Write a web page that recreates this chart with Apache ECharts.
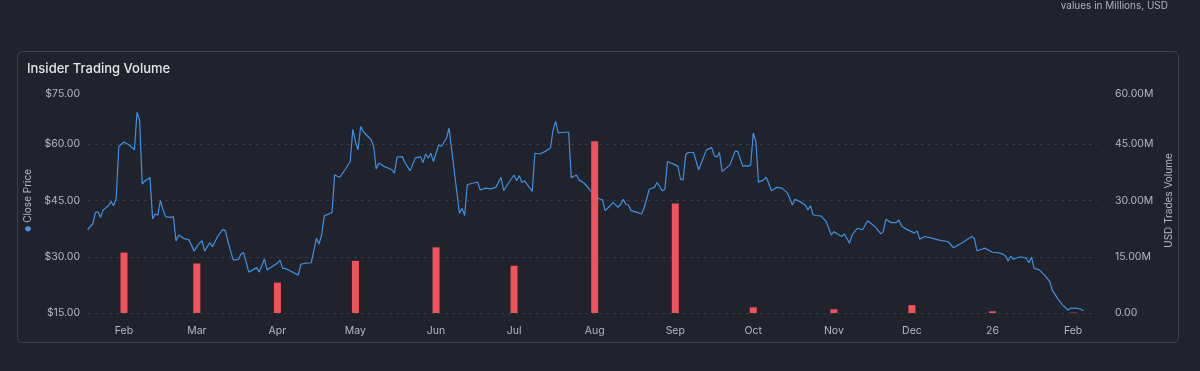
<!DOCTYPE html>
<html>
<head>
<meta charset="utf-8">
<script src="https://cdn.jsdelivr.net/npm/echarts@6/dist/echarts.min.js"></script>
<style>
html,body{margin:0;padding:0;background:#20232b;}
#chart{width:1200px;height:371px;}
</style>
</head>
<body>
<div id="chart"></div>
<script>
const monthNames = ['Jan','Feb','Mar','Apr','May','Jun','Jul','Aug','Sep','Oct','Nov','Dec'];

const priceDates = [
'2025-01-18','2025-01-20','2025-01-21','2025-01-22','2025-01-23','2025-01-24','2025-01-26','2025-01-27','2025-01-28','2025-01-29','2025-01-30',
'2025-02-01','2025-02-03','2025-02-05','2025-02-06','2025-02-07','2025-02-08','2025-02-09','2025-02-11','2025-02-12','2025-02-13','2025-02-14','2025-02-15','2025-02-16','2025-02-17','2025-02-19','2025-02-20','2025-02-21','2025-02-22','2025-02-24','2025-02-26','2025-02-28',
'2025-03-01','2025-03-02','2025-03-03','2025-03-04','2025-03-06','2025-03-07','2025-03-09','2025-03-11','2025-03-12','2025-03-13','2025-03-15','2025-03-17','2025-03-18','2025-03-19','2025-03-21','2025-03-24','2025-03-25','2025-03-27','2025-03-28','2025-03-30',
'2025-04-01','2025-04-02','2025-04-03','2025-04-04','2025-04-06','2025-04-09','2025-04-10','2025-04-12','2025-04-14','2025-04-16','2025-04-17','2025-04-18','2025-04-19','2025-04-22','2025-04-23','2025-04-25','2025-04-27','2025-04-29','2025-04-30',
'2025-05-01','2025-05-02','2025-05-03','2025-05-04','2025-05-07','2025-05-08','2025-05-09','2025-05-10','2025-05-12','2025-05-15','2025-05-16','2025-05-17','2025-05-19','2025-05-20','2025-05-22','2025-05-24','2025-05-26','2025-05-27','2025-05-28','2025-05-29','2025-05-30','2025-05-31',
'2025-06-02','2025-06-03','2025-06-05','2025-06-06','2025-06-10','2025-06-11','2025-06-12','2025-06-13','2025-06-15','2025-06-17','2025-06-18','2025-06-20','2025-06-22','2025-06-24','2025-06-26','2025-06-27','2025-06-29',
'2025-07-01','2025-07-02','2025-07-03','2025-07-04','2025-07-05','2025-07-08','2025-07-09','2025-07-11','2025-07-13','2025-07-15','2025-07-16','2025-07-17','2025-07-18','2025-07-20','2025-07-22','2025-07-23','2025-07-25','2025-07-26','2025-07-28','2025-07-30',
'2025-08-01','2025-08-03','2025-08-04','2025-08-05','2025-08-07','2025-08-08','2025-08-10','2025-08-11','2025-08-12','2025-08-13','2025-08-14','2025-08-15','2025-08-17','2025-08-19','2025-08-20','2025-08-22','2025-08-24','2025-08-25','2025-08-27','2025-08-28','2025-08-29',
'2025-09-01','2025-09-02','2025-09-03','2025-09-04','2025-09-05','2025-09-06','2025-09-08','2025-09-10','2025-09-13','2025-09-15','2025-09-16','2025-09-17','2025-09-18','2025-09-19','2025-09-22','2025-09-24','2025-09-25','2025-09-27','2025-09-28','2025-09-29','2025-09-30',
'2025-10-01','2025-10-02','2025-10-03','2025-10-05','2025-10-06','2025-10-08','2025-10-10','2025-10-12','2025-10-14','2025-10-15','2025-10-16','2025-10-17','2025-10-19','2025-10-21','2025-10-22','2025-10-23','2025-10-24','2025-10-25','2025-10-27','2025-10-29','2025-10-30','2025-10-31',
'2025-11-01','2025-11-03','2025-11-04','2025-11-05','2025-11-07','2025-11-08','2025-11-10','2025-11-12','2025-11-14','2025-11-17','2025-11-19','2025-11-20','2025-11-21','2025-11-23','2025-11-25','2025-11-26','2025-11-27','2025-11-29',
'2025-12-02','2025-12-03','2025-12-04','2025-12-06','2025-12-09','2025-12-11','2025-12-15','2025-12-17','2025-12-21','2025-12-24','2025-12-25','2025-12-26','2025-12-28','2025-12-29',
'2026-01-01','2026-01-03','2026-01-05','2026-01-06','2026-01-07','2026-01-08','2026-01-09','2026-01-10','2026-01-12','2026-01-14','2026-01-15','2026-01-16','2026-01-17','2026-01-19','2026-01-21','2026-01-23','2026-01-24','2026-01-26','2026-01-28','2026-01-30','2026-01-31',
'2026-02-02','2026-02-04','2026-02-05'
];

const closePrices = [
37.2,38.8,41.8,42.0,40.5,42.5,43.6,44.7,43.6,45.6,59.4,
60.6,59.8,58.5,68.5,66.5,49.4,50.2,51.1,40.1,41.4,41.1,45.0,42.5,40.7,40.5,40.7,34.2,35.8,34.9,34.5,31.5,
32.7,33.6,34.3,31.5,33.8,32.7,35.4,37.3,36.9,34.0,29.1,29.3,30.7,31.1,25.9,27.1,25.9,29.4,26.5,27.4,
28.3,29.1,26.9,26.9,26.2,25.1,28.0,28.3,28.4,34.9,33.4,35.8,40.9,41.8,51.8,51.2,53.2,55.4,64.0,
60.7,58.5,64.7,63.4,61.2,59.4,53.4,55.0,54.1,53.2,52.3,56.6,56.7,55.2,52.9,56.3,56.7,55.1,57.4,56.3,57.6,55.4,
59.8,59.4,61.6,64.3,41.6,42.9,41.0,49.2,49.6,49.9,47.8,48.3,48.1,48.5,51.2,47.6,49.8,
51.8,50.3,51.6,49.8,50.3,47.4,57.6,57.4,58.1,59.0,63.8,66.1,63.0,63.2,63.2,51.1,51.8,50.5,49.6,48.0,
46.0,45.4,45.2,42.3,43.6,44.5,43.2,44.0,45.3,44.0,43.8,42.3,41.9,41.4,43.0,48.0,48.5,49.8,47.6,48.0,55.4,
54.5,54.1,50.7,50.5,57.2,57.8,57.8,53.2,58.5,59.1,56.9,56.6,57.8,52.7,54.5,58.1,58.1,54.1,54.3,54.1,54.5,
63.0,60.7,49.9,50.5,51.2,47.6,48.5,48.3,47.1,45.6,43.8,45.3,44.7,43.8,42.5,43.6,41.2,41.0,40.9,39.4,37.6,35.8,
36.7,35.8,35.4,36.1,33.6,35.8,37.6,37.2,39.6,37.9,36.1,36.7,40.0,39.1,39.1,39.8,38.2,37.3,
36.3,36.9,34.7,35.4,34.9,34.5,34.0,32.4,34.0,35.4,34.9,31.6,32.0,32.3,
31.2,31.1,30.7,30.2,28.9,30.2,29.3,29.6,30.0,29.6,28.4,29.9,26.9,26.5,25.1,23.4,21.1,18.9,17.1,15.8,16.3,
16.3,16.0,15.6
];

const volumeMonths = ['2025-02-01','2025-03-01','2025-04-01','2025-05-01','2025-06-01','2025-07-01','2025-08-01','2025-09-01','2025-10-01','2025-11-01','2025-12-01','2026-01-01','2026-02-01'];
const tradeVolumes = [16.1,13.2,8.1,13.9,17.5,12.6,45.8,29.2,1.5,1.0,2.1,0.45,0.1];

const priceTicks = [15, 30, 45, 60, 75];
const volumeTicks = [0, 15, 60];

const xMin = '2025-01-19 12:00:00';
const xMax = '2026-02-08 20:00:00';

const chart = echarts.init(document.getElementById('chart'), null, {renderer: 'canvas'});
const DAY = 86400000;
const labelColor = '#b4b8c0';
const font = 'Inter, "Noto Sans", sans-serif';

chart.setOption({
  backgroundColor: '#20232b',
  animation: false,
  title: [
    {text: 'Insider Trading Volume', left: 22, top: 58,
     textStyle: {color: '#e4e6ea', fontSize: 13, fontWeight: 500, fontFamily: font}},
    {text: 'values in Millions, USD', right: 27, top: -4,
     textStyle: {color: '#aeb2ba', fontSize: 10, fontWeight: 'normal', fontFamily: font}}
  ],
  graphic: [{
    type: 'rect', left: 17, top: 51, silent: true, z: -1,
    shape: {width: 1161, height: 291, r: 5},
    style: {fill: 'transparent', stroke: '#3c4049', lineWidth: 1}
  }],
  grid: {left: 88, right: 103, top: 88, bottom: 58, containLabel: false},
  xAxis: {
    type: 'time',
    min: xMin, max: xMax,
    minInterval: 27 * DAY, maxInterval: 32 * DAY,
    axisLine: {show: false},
    axisTick: {show: false},
    splitLine: {show: false},
    axisLabel: {
      color: labelColor, fontSize: 10.5, fontFamily: font, margin: 12,
      showMinLabel: false, showMaxLabel: false,
      formatter: function (val) {
        const d = new Date(val);
        const m = d.getMonth();
        return m === 0 ? String(d.getFullYear()).slice(2) : monthNames[m];
      }
    }
  },
  yAxis: [
    {
      type: 'value', min: priceTicks[0], max: priceTicks[priceTicks.length - 1], interval: 15,
      position: 'left',
      name: '{d|●} Close Price', nameLocation: 'middle', nameRotate: 90, nameGap: 48,
      nameTextStyle: {color: '#b4b8c0', fontSize: 10, fontFamily: font,
        rich: {d: {color: '#4a90e2', fontSize: 7}}},
      axisLine: {show: false}, axisTick: {show: false},
      axisLabel: {color: labelColor, fontSize: 10.5, fontFamily: font, margin: 8,
        verticalAlignMaxLabel: 'top',
        formatter: v => '$' + v.toFixed(2)},
      splitLine: {show: true, showMaxLine: false, lineStyle: {color: '#363a43', type: [3, 4], width: 1}}
    },
    {
      type: 'value', min: volumeTicks[0], max: volumeTicks[2], interval: volumeTicks[1],
      position: 'right',
      name: 'USD Trades Volume', nameLocation: 'middle', nameRotate: 90, nameGap: 59,
      nameTextStyle: {color: '#b4b8c0', fontSize: 10, fontFamily: font},
      axisLine: {show: false}, axisTick: {show: false},
      axisLabel: {color: labelColor, fontSize: 10.5, fontFamily: font, margin: 18,
        verticalAlignMaxLabel: 'top',
        formatter: v => v === 0 ? '0.00' : v.toFixed(2) + 'M'},
      splitLine: {show: false}
    }
  ],
  series: [
    {
      name: 'Close Price', type: 'line', yAxisIndex: 0,
      data: priceDates.map((d, i) => [d, closePrices[i]]),
      showSymbol: false, symbol: 'none',
      lineStyle: {color: '#3f8fe4', width: 1.2},
      itemStyle: {color: '#3f8fe4'},
      z: 2
    },
    {
      name: 'USD Trades Volume', type: 'bar', yAxisIndex: 1,
      data: volumeMonths.map((d, i) => [d, tradeVolumes[i]]),
      barWidth: 7,
      itemStyle: {color: '#f4525a'},
      z: 3
    }
  ]
});
</script>
</body>
</html>
